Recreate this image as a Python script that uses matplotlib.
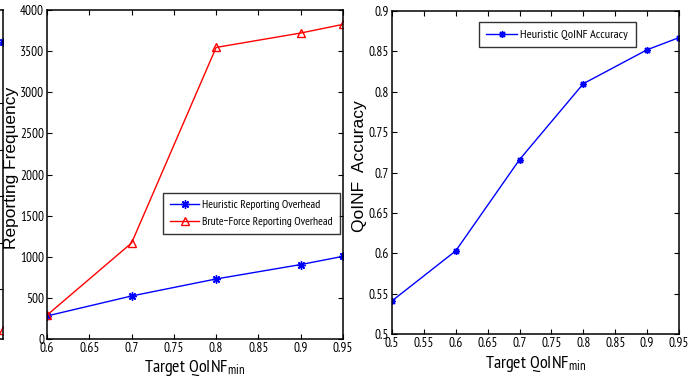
import matplotlib
matplotlib.use("Agg")
import matplotlib.pyplot as plt

NARROW = ["Liberation Sans Narrow", "PT Sans Narrow", "Liberation Sans", "DejaVu Sans"]
plt.rcParams["font.family"] = NARROW
plt.rcParams["mathtext.default"] = "regular"

# left panel: reporting overhead
x_left = [0.6, 0.7, 0.8, 0.9, 0.95]
heuristic_overhead = [280, 523, 730, 905, 1005]
brute_overhead = [290, 1167, 3545, 3720, 3825]

# right panel: accuracy
x_right = [0.5, 0.6, 0.7, 0.8, 0.9, 0.95]
heuristic_accuracy = [0.541, 0.603, 0.716, 0.810, 0.852, 0.867]

# cropped-off neighbour panel at the far left edge
frag_x = [0.9, 1.0]
frag_blue = [6.0, 6.32]
frag_red = [0.13]

W, H = 692, 383
STAR = (8, 2, 0)   # matlab-like asterisk
fig = plt.figure(figsize=(W / 100, H / 100), dpi=100)


def box(l, t, r, b):
    return [l / W, 1 - b / H, (r - l) / W, (b - t) / H]


def style(ax):
    ax.tick_params(direction="in", top=True, right=True, length=3.5, width=0.8,
                   labelsize=9.5, pad=2)
    for s in ax.spines.values():
        s.set_linewidth(1.1)


# fragment of previous figure
axf = fig.add_axes(box(-300, 10, 3, 339))
axf.patch.set_alpha(0)
axf.plot(frag_x, frag_blue, color="blue", marker=STAR, markersize=6, lw=1)
axf.plot([1.0], frag_red, color="red", marker="^", mfc="none", markersize=6, lw=1)
axf.set_xlim(0, 1)
axf.set_ylim(-0.07, 7)
axf.set_yticks(range(1, 6))
axf.set_yticklabels([])
axf.set_xticks([])
style(axf)

LABEL_FONT = ["Liberation Sans", "DejaVu Sans"]
LEG_KW = dict(frameon=True, fancybox=False, edgecolor="black",
              handlelength=2.5, borderaxespad=0, handletextpad=0.25)

# left panel
ax1 = fig.add_axes(box(47, 10, 343, 339))
ax1.plot(x_left, heuristic_overhead, color="blue", marker=STAR, markersize=6, lw=1,
         label="Heuristic Reporting Overhead")
ax1.plot(x_left, brute_overhead, color="red", marker="^", mfc="none", markersize=6, lw=1,
         label="Brute\u2212Force Reporting Overhead")
ax1.set_xlim(0.6, 0.95)
ax1.set_ylim(0, 4000)
ax1.set_xticks([0.6, 0.65, 0.7, 0.75, 0.8, 0.85, 0.9, 0.95])
ax1.set_xticklabels(["0.6", "0.65", "0.7", "0.75", "0.8", "0.85", "0.9", "0.95"])
ax1.set_yticks(range(0, 4001, 500))
ax1.set_ylabel("Reporting Frequency", fontsize=12.5, family=LABEL_FONT)
ax1.yaxis.set_label_coords(-0.095, 0.52)
ax1.set_xlabel("Target QoINF$_{min}$", fontsize=13)
ax1.xaxis.set_label_coords(0.5, -0.058)
style(ax1)
leg = ax1.legend(loc="upper left", bbox_to_anchor=((163 - 47) / 296, (339 - 193) / 329),
                 fontsize=8.4, borderpad=0.6, labelspacing=0.6, **LEG_KW)
leg.get_frame().set_linewidth(1.0)

# right panel
ax2 = fig.add_axes(box(392, 11, 679, 334))
ax2.plot(x_right, heuristic_accuracy, color="blue", marker=STAR, markersize=5, lw=1,
         label="Heuristic QoINF Accuracy")
ax2.set_xlim(0.5, 0.95)
ax2.set_ylim(0.5, 0.9)
ax2.set_xticks([0.5, 0.55, 0.6, 0.65, 0.7, 0.75, 0.8, 0.85, 0.9, 0.95])
ax2.set_xticklabels(["0.5", "0.55", "0.6", "0.65", "0.7", "0.75", "0.8", "0.85", "0.9", "0.95"])
ax2.set_yticks([0.5, 0.55, 0.6, 0.65, 0.7, 0.75, 0.8, 0.85, 0.9])
ax2.set_yticklabels(["0.5", "0.55", "0.6", "0.65", "0.7", "0.75", "0.8", "0.85", "0.9"])
ax2.set_ylabel("QoINF  Accuracy", fontsize=12.5, family=LABEL_FONT)
ax2.yaxis.set_label_coords(-0.087, 0.52)
ax2.set_xlabel("Target QoINF$_{min}$", fontsize=13)
ax2.xaxis.set_label_coords(0.5, -0.062)
style(ax2)
leg2 = ax2.legend(loc="upper left", bbox_to_anchor=((479 - 392) / 287, (334 - 22) / 323),
                  fontsize=8.9, borderpad=0.6, **LEG_KW)
leg2.get_frame().set_linewidth(1.0)

fig.savefig("out.png", dpi=100)
